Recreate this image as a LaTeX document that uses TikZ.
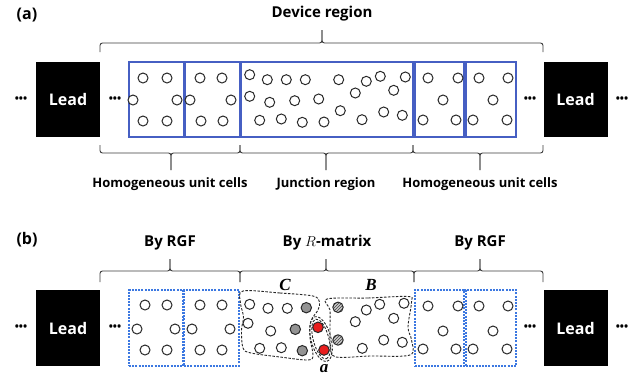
\documentclass[tikz,border=0pt]{standalone}
\usepackage{fontspec}
\setmainfont{Open Sans}
\newfontfamily\serifbi{Liberation Serif}
\usetikzlibrary{patterns}
\definecolor{cellblue}{RGB}{70,95,195}
\definecolor{dashblue}{RGB}{60,120,225}
\definecolor{ringc}{RGB}{40,40,40}
\definecolor{bracec}{RGB}{60,60,60}
\definecolor{redc}{RGB}{232,30,30}
\begin{document}
\begin{tikzpicture}[x=1pt,y=-1pt,
 leadbox/.style={fill=black, text=white, minimum width=64pt, minimum height=75pt, inner sep=0, font=\bfseries\fontsize{16}{16}\selectfont},
 cellbox/.style={draw=cellblue, line width=1.1pt, inner sep=0, minimum height=75pt},
 dashbox/.style={draw=dashblue, line width=1.1pt, dash pattern=on 2pt off 1.2pt, inner sep=0, minimum height=76pt},
 ring/.style={circle, draw=ringc, line width=1pt, minimum size=10pt, inner sep=0, fill=white},
 grayring/.style={ring, fill=gray!85, minimum size=10.4pt},
 redring/.style={ring, fill=redc, minimum size=10.6pt},
 hatchring/.style={ring, minimum size=10.4pt, preaction={fill=gray!40}, pattern=north east lines, pattern color=black!75},
 ellip/.style={font=\bfseries\fontsize{11}{11}\selectfont, inner sep=0},
 ttl/.style={font=\bfseries\fontsize{15}{15}\selectfont, inner sep=0},
 sublbl/.style={font=\bfseries\fontsize{13}{13}\selectfont, inner sep=0},
 panel/.style={font=\bfseries\fontsize{16}{16}\selectfont, inner sep=0},
 bracepath/.style={draw=bracec, line width=0.9pt, rounded corners=2.5pt},
 regionline/.style={draw=black!85, line width=0.9pt, dash pattern=on 2.5pt off 1.5pt},
 letter/.style={font=\serifbi\bfseries\itshape\fontsize{17}{17}\selectfont, inner sep=0},
]
\useasboundingbox[fill=white] (0,0) rectangle (643,378);

% ---------------- (a) ----------------
\node[panel] (pa) at (27,15) {(a)};
\node[ttl] (devreg) at (322,14) {Device region};
\draw[bracepath] (100,52) |- (322,43) -- (322,30);
\draw[bracepath] (543,52) |- (322,43) -- (322,30);

\node[leadbox] (leadA1) at (68,99.5) {Lead};
\node[leadbox] (leadA2) at (575.5,99.5) {Lead};
\node[ellip] (dA1) at (21,100) {•••};
\node[ellip] (dA2) at (115,100) {•••};
\node[ellip] (dA3) at (530,100) {•••};
\node[ellip] (dA4) at (622,100) {•••};

\node[cellbox, minimum width=55pt] (cA1) at (156.5,99.5) {};
\node[cellbox, minimum width=55pt] (cA2) at (212.5,99.5) {};
\node[cellbox, minimum width=172pt] (cJ) at (327,99.5) {};
\node[cellbox, minimum width=49pt] (cA3) at (439.5,99.5) {};
\node[cellbox, minimum width=50pt] (cA4) at (491,99.5) {};

\foreach \x/\y [count=\i] in {143/78,167/78,133/100,177/100,143/121,167/121,
  200/78,222/78,190/100,231/100,201/121,223/121,
  428/78,458/78,443/100,423/120,456/120,
  479/78,508/78,493/100,473/120,507/120,
  249.7/74.7,267.3/79.7,286.3/79.7,305.3/79.7,338.7/79.7,366.3/81.3,380.3/76.3,405.3/77,
  249.7/96.3,269.7/102.3,294.7/100.7,318.7/99,355.3/93,393.7/90.3,
  259.7/120.3,281.3/119,302.3/122.3,324/122,340.3/110.7,362/119.7,383.7/112,402.3/115.3}
  \node[ring] (ra\i) at (\x,\y) {};

\draw[bracepath] (100,145) |- (171,153) -- (171,170);
\draw[bracepath] (240,145) |- (171,153) -- (171,170);
\draw[bracepath] (240,145) |- (326,153) -- (326,170);
\draw[bracepath] (413,145) |- (326,153) -- (326,170);
\draw[bracepath] (413,145) |- (480,153) -- (480,170);
\draw[bracepath] (543,145) |- (480,153) -- (480,170);
\node[sublbl] (hA1) at (170,184) {Homogeneous unit cells};
\node[sublbl] (jA) at (326,184) {Junction region};
\node[sublbl] (hA2) at (480,184) {Homogeneous unit cells};

% ---------------- (b) ----------------
\node[panel] (pb) at (27,240) {(b)};
\node[ttl] (rgf1) at (170,243) {By RGF};
\node[ttl] (rmat) at (327,243) {By $R$-matrix};
\node[ttl] (rgf2) at (480,243) {By RGF};
\draw[bracepath] (100,282) |- (170,271) -- (170,259);
\draw[bracepath] (240,282) |- (170,271) -- (170,259);
\draw[bracepath] (240,282) |- (326,271) -- (326,259);
\draw[bracepath] (414,282) |- (326,271) -- (326,259);
\draw[bracepath] (414,282) |- (480,271) -- (480,259);
\draw[bracepath] (543,282) |- (480,271) -- (480,259);

\node[leadbox, minimum height=76pt] (leadB1) at (68,328) {Lead};
\node[leadbox, minimum height=76pt] (leadB2) at (575.5,328) {Lead};
\node[ellip] (dB1) at (21,328) {•••};
\node[ellip] (dB2) at (115,328) {•••};
\node[ellip] (dB3) at (530,328) {•••};
\node[ellip] (dB4) at (622,328) {•••};

\node[dashbox, minimum width=54pt] (cB1) at (156,328) {};
\node[dashbox, minimum width=55pt] (cB2) at (211.5,328) {};
\node[dashbox, minimum width=49pt] (cB3) at (439.5,328) {};
\node[dashbox, minimum width=50pt] (cB4) at (491,328) {};

\foreach \x/\y [count=\i] in {145/305,167/305,137/329,175/329,145/350,167/350,
  200/305,222/305,192/329,230/329,200/350,222/350,
  428/306,458/306,443/331,423/349,456/349,
  479/306,508/306,493/331,473/349,507/349,
  249.7/304.3,268/308.3,287.3/308.3,248/323.3,270.7/331,259.7/348.3,281.3/347.7,
  366.3/310,379.7/304.3,404/303.3,355.3/321.7,393.7/318.3,383.7/340,402.3/342.3,362.3/348.3}
  \node[ring] (rb\i) at (\x,\y) {};
\node[grayring] (g1) at (306.3,307.7) {};
\node[grayring] (g2) at (295.3,329.3) {};
\node[grayring] (g3) at (302.3,350.7) {};
\node[redring] (red1) at (318,327.3) {};
\node[redring] (red2) at (324,350) {};
\node[hatchring] (h1) at (338,307.3) {};
\node[hatchring] (h2) at (338,340) {};

% region C
\draw[regionline] plot[smooth cycle, tension=0.55] coordinates {(243,291) (280,293) (313,296) (319.5,302) (318,310) (311,321) (310,338) (313,355) (308,360) (280,357) (251,353) (243,348) (241.5,330) (243.5,317) (240.5,303)};
% region B
\draw[regionline] plot[smooth cycle, tension=0.55] coordinates {(327,299) (368,298) (408,296.5) (411.5,302) (408,327) (411.5,340) (410,355) (370,356) (336,357) (330.5,347) (330,328) (330,310)};
% region a (double)
\draw[regionline] (321,339) ellipse[x radius=23pt, y radius=10pt, rotate=-75];
\draw[regionline] (321,339) ellipse[x radius=20.5pt, y radius=7.8pt, rotate=-75];

\node[letter] (lC) at (285,285) {C};
\node[letter] (lB) at (371,285) {B};
\node[letter] (la) at (324,369) {a};
\end{tikzpicture}
\end{document}
